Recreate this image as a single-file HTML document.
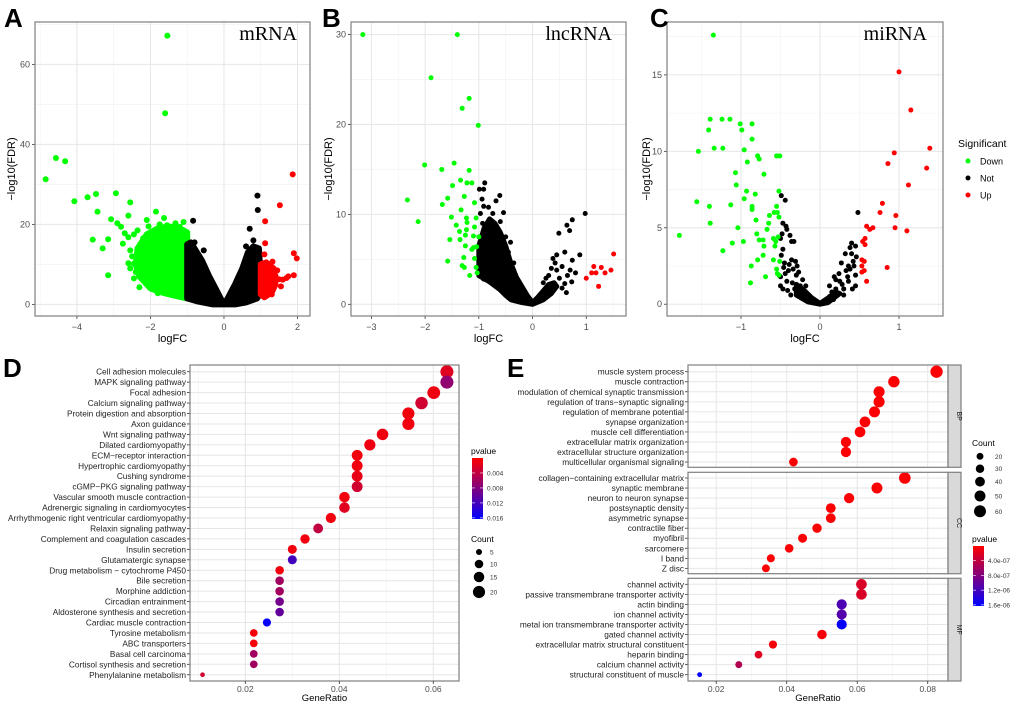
<!DOCTYPE html>
<html><head><meta charset="utf-8">
<style>
html,body{margin:0;padding:0;background:#fff;}
svg{display:block;font-family:"Liberation Sans",Arial,sans-serif;}
</style></head>
<body>
<svg id="fig" width="1020" height="707" viewBox="0 0 1020 707" xmlns="http://www.w3.org/2000/svg"></svg>
<script>
// ===== Volcano data (logFC, -log10 FDR) =====
const aGreen=[[-1.54,67.2],[-1.6,47.8],[-4.57,36.6],[-4.32,35.8],[-4.85,31.3],[-4.07,25.8],[-3.71,26.8],[-3.48,27.6],[-2.94,27.8],[-3.44,23.2],[-2.55,25.5],[-1.85,23.2],[-1.63,21.6],[-3.07,21.3],[-2.6,22.2],[-2.1,21.1],[-3.57,16.2],[-3.15,16.3],[-3.3,14.0],[-3.15,7.3],[-2.3,4.3],[-2.9,20.3],[-2.8,19.4],[-2.7,17.8],[-2.55,13.5],[-2.55,9],[-2.45,10.2],[-2.2,7.2],[-1.32,20.3],[-1.1,20.6],[-1.2,19.4],[-2.75,15.2],[-2.6,16.8],[-2.45,17.5],[-2.4,8.1],[-2.6,10.3],[-2.05,19.5],[-1.75,20],[-1.4,18.4],[-2.35,18.5],[-2.2,16.5],[-2.5,12],[-2.45,6.5],[-2.1,5],[-1.8,2.8],[-2.25,11.5],[-1.95,18.2],[-1.55,19.8]];
const aBlack=[[-0.84,20.9],[0.91,27.2],[0.92,23.6],[0.7,18.9],[0.8,16],[-0.8,15.5],[0.88,14.2],[-0.55,13.5],[0.6,14.5]];
const aRed=[[1.87,32.5],[1.52,24.8],[1.12,20.8],[1.12,15.3],[1.9,12.8],[1.98,11.5],[1.9,7.3],[1.32,10.7],[1.1,12.5],[1.7,6.6],[1.6,6.2],[1.75,7],[1.45,8.5],[1.5,6.3],[1.25,4],[1.3,2.5],[1.2,8.5],[1.05,10.2],[1.4,7.2],[1.55,4.5]];
const aGreenCloud=[[-1,1.5],[-1,18],[-1.2,19],[-1.5,19.5],[-1.8,19],[-2.1,17.5],[-2.35,14],[-2.4,10],[-2.3,7],[-2.0,4],[-1.7,3],[-1.4,2.3]];
const aBlackCloud=[[-1,1.5],[-1,15],[-0.9,15.5],[-0.8,14],[-0.6,11],[-0.4,7],[-0.2,3.5],[-0.05,0.8],[0,0],[0.1,1.5],[0.3,5],[0.5,9],[0.65,13],[0.8,14.5],[0.95,14],[1.0,7],[1.0,3],[0.9,1.5],[0.6,0.5],[0.3,0],[-0.3,0],[-0.7,0.7]];
const aRedCloud=[[1.0,2.5],[1.0,10],[1.15,10.5],[1.35,9],[1.4,5],[1.3,3],[1.1,1.8]];

const bGreen=[[-3.16,30.0],[-1.40,30.0],[-1.89,25.2],[-1.18,22.9],[-1.31,21.8],[-1.01,19.9],[-2.01,15.5],[-1.69,15.0],[-1.46,15.7],[-1.18,14.9],[-2.33,11.6],[-2.13,9.2],[-1.34,13.8],[-1.22,13.5],[-1.13,13.5],[-1.49,13.2],[-1.27,12.0],[-1.58,11.8],[-1.68,11.1],[-1.08,11.3],[-1.33,10.5],[-1.51,9.7],[-1.23,9.6],[-1.05,9.6],[-1.42,8.8],[-1.22,9.1],[-1.23,8.3],[-1.08,8.6],[-1.54,7.2],[-1.36,8.1],[-1.25,7.7],[-1.35,7.2],[-1.10,7.6],[-1.00,7.5],[-1.25,6.5],[-1.10,6.3],[-1.13,6.1],[-1.04,6.4],[-1.58,4.8],[-1.28,5.2],[-1.31,4.3],[-1.27,4.1],[-1.08,5.1],[-1.05,4.1],[-1.03,3.5],[-1.17,3.2]];
const bBlack=[[0.98,10.1],[0.74,9.4],[0.64,8.8],[0.69,8.2],[0.49,7.9],[0.88,5.5],[0.60,5.8],[0.74,4.9],[0.45,5.5],[0.73,2.5],[0.63,1.3],[0.38,5.1],[-0.89,13.5],[-0.99,12.8],[-0.91,12.8],[-0.61,12.1],[-0.94,11.7],[-0.91,10.9],[-0.54,10.2],[-0.74,10.1],[-0.97,10.1],[-0.93,9.0],[-0.80,8.3],[-0.60,9.2],[-0.41,6.9],[-0.94,3.5],[-0.91,2.8],[-0.85,7.5],[-0.95,6],[-0.7,7],[-0.5,7.5],[0.55,4.2],[0.65,3.2],[0.45,3.8],[0.3,3.2],[0.5,2.9],[0.7,3.8],[-0.98,4.5],[-0.88,5.2],[-0.82,10.8],[-0.68,11.5],[-0.45,5.8],[-0.35,4.6],[0.2,2.4],[0.35,4.0],[0.25,2.9],[0.55,1.8],[0.42,4.6],[0.6,2.3],[0.8,3.5]];
const bRed=[[1.51,5.6],[1.0,2.9],[1.10,3.5],[1.14,4.2],[1.18,3.5],[1.28,4.1],[1.23,2.0],[1.35,3.5],[1.46,3.8]];
const bBlackCloud=[[-1.0,6.5],[-0.9,8.5],[-0.8,9.5],[-0.7,9],[-0.6,8],[-0.5,6.5],[-0.4,4.5],[-0.3,3],[-0.2,2],[-0.1,1],[0,0.2],[0.1,0.8],[0.2,1.5],[0.3,2.2],[0.4,2.4],[0.45,2.0],[0.35,1.2],[0.2,0.5],[0,0],[-0.2,0.2],[-0.4,0.5],[-0.5,1],[-0.6,1.6],[-0.8,2.5],[-1.0,3.2]];

const cGreen=[[-1.35,17.6],[-1.39,12.1],[-1.24,12.1],[-1.14,12.1],[-1.41,11.4],[-1.01,11.8],[-0.99,11.4],[-0.86,11.8],[-0.86,10.8],[-1.34,10.2],[-1.23,10.2],[-1.54,10.0],[-0.96,10.1],[-0.79,9.7],[-0.77,9.5],[-0.92,9.3],[-0.55,9.7],[-0.51,9.7],[-1.07,8.6],[-0.71,8.5],[-1.06,7.8],[-0.93,7.4],[-0.52,7.4],[-0.96,6.9],[-0.82,7.2],[-1.56,6.7],[-1.13,6.5],[-1.40,6.4],[-0.86,6.4],[-0.86,6.2],[-0.55,6.4],[-0.58,6.0],[-0.54,6.0],[-0.64,5.8],[-0.52,5.7],[-0.81,5.5],[-1.39,5.3],[-0.65,5.3],[-1.04,5.0],[-0.67,4.9],[-1.78,4.5],[-0.80,4.6],[-0.77,4.2],[-0.72,4.2],[-0.53,4.4],[-1.11,4.0],[-0.97,4.1],[-0.56,4.1],[-0.59,4.3],[-0.57,3.8],[-0.71,3.8],[-1.23,3.5],[-0.72,3.2],[-0.79,2.9],[-0.59,2.9],[-0.51,2.8],[-0.87,2.5],[-0.55,2.3],[-0.54,2.0],[-0.52,1.9],[-0.69,1.8],[-0.88,1.4]];
const cRed=[[1.0,15.2],[1.15,12.7],[1.39,10.2],[0.94,9.9],[1.35,8.9],[0.86,9.2],[1.12,7.8],[0.79,6.6],[0.76,6.0],[0.96,5.8],[0.95,5.0],[1.10,4.8],[0.59,5.1],[0.63,4.9],[0.67,5.0],[0.57,4.3],[0.54,4.1],[0.57,3.9],[0.53,2.9],[0.56,2.8],[0.53,2.5],[0.53,2.1],[0.56,2.2],[0.59,1.5],[0.85,2.4]];
const cBlack=[[-0.49,7.1],[-0.44,6.8],[0.48,6.0],[-0.47,5.3],[-0.43,5.1],[-0.42,4.9],[-0.48,4.6],[-0.50,4.3],[-0.38,4.5],[-0.36,4.1],[-0.33,4.1],[-0.47,3.6],[-0.49,3.2],[-0.45,2.7],[-0.36,2.9],[-0.29,2.5],[-0.50,1.8],[-0.50,1.2],[0.40,4.0],[0.45,3.8],[0.38,3.7],[0.32,3.3],[0.46,3.1],[0.42,2.8],[0.36,2.5],[0.27,2.7],[0.45,1.9],[0.45,1.2],[0.18,1.8],[-0.4,2.2],[-0.3,1.9],[-0.42,1.5],[-0.25,1.2],[0.25,1.5],[0.35,1.8],[0.3,1.0],
 [-0.46,2.4],[-0.44,2.0],[-0.39,2.6],[-0.34,2.3],[-0.31,2.8],[-0.27,2.1],[-0.22,1.6],[-0.35,1.4],[-0.47,1.0],[-0.41,0.9],[-0.32,1.0],[-0.28,0.7],[-0.2,0.9],[-0.15,0.6],[-0.18,1.2],[-0.12,0.4],[-0.08,0.3],[-0.05,0.15],[-0.24,0.45],[-0.37,0.6],
 [0.05,0.15],[0.08,0.3],[0.12,0.5],[0.15,0.8],[0.2,1.0],[0.22,0.6],[0.28,1.3],[0.33,2.2],[0.38,2.3],[0.4,3.3],[0.43,2.5],[0.3,0.6],[0.17,0.3],[0.24,2.0],[0.36,1.5],[0.41,1.0],[0.12,1.2],[0.2,1.6]];
const cBlackCloud=[[-0.3,1.3],[-0.2,0.9],[-0.1,0.4],[0,0.05],[0.1,0.4],[0.2,0.8],[0.25,0.7],[0.1,0.1],[0,0],[-0.15,0.15],[-0.3,0.6]];

// ===== KEGG (D) =====
const dTerms=["Cell adhesion molecules","MAPK signaling pathway","Focal adhesion","Calcium signaling pathway","Protein digestion and absorption","Axon guidance","Wnt signaling pathway","Dilated cardiomyopathy","ECM−receptor interaction","Hypertrophic cardiomyopathy","Cushing syndrome","cGMP−PKG signaling pathway","Vascular smooth muscle contraction","Adrenergic signaling in cardiomyocytes","Arrhythmogenic right ventricular cardiomyopathy","Relaxin signaling pathway","Complement and coagulation cascades","Insulin secretion","Glutamatergic synapse","Drug metabolism − cytochrome P450","Bile secretion","Morphine addiction","Circadian entrainment","Aldosterone synthesis and secretion","Cardiac muscle contraction","Tyrosine metabolism","ABC transporters","Basal cell carcinoma","Cortisol synthesis and secretion","Phenylalanine metabolism"];
const dRatio=[0.0629,0.0629,0.0601,0.0575,0.0547,0.0547,0.0492,0.0465,0.0438,0.0438,0.0438,0.0438,0.0411,0.0411,0.0382,0.0355,0.0327,0.0300,0.0300,0.0273,0.0273,0.0273,0.0273,0.0273,0.0246,0.0218,0.0218,0.0218,0.0218,0.0109];
const dCount=[23,23,22,21,20,20,18,17,16,16,16,16,15,15,14,13,12,11,11,10,10,10,10,10,9,8,8,8,8,3];
const dP=[0.002,0.007,0.001,0.003,0.0008,0.0008,0.001,0.001,0.0008,0.0008,0.0015,0.003,0.0008,0.002,0.0008,0.004,0.0008,0.0008,0.012,0.0008,0.006,0.006,0.009,0.010,0.016,0.0005,0.0005,0.006,0.006,0.003];
const dXTicks=[0.02,0.04,0.06];
const dPTicks=[0.004,0.008,0.012,0.016];
const dCountTicks=[5,10,15,20];

// ===== GO (E) =====
const eBP=["muscle system process","muscle contraction","modulation of chemical synaptic transmission","regulation of trans−synaptic signaling","regulation of membrane potential","synapse organization","muscle cell differentiation","extracellular matrix organization","extracellular structure organization","multicellular organismal signaling"];
const eBPRatio=[0.0825,0.0704,0.0662,0.0662,0.0649,0.0622,0.0608,0.0568,0.0568,0.0419];
const eBPCount=[63,54,51,51,50,48,47,44,44,32];
const eBPP=[2e-8,2e-8,2e-8,2e-8,2e-8,2e-8,2e-8,2e-8,2e-8,3e-8];
const eCC=["collagen−containing extracellular matrix","synaptic membrane","neuron to neuron synapse","postsynaptic density","asymmetric synapse","contractile fiber","myofibril","sarcomere","I band","Z disc"];
const eCCRatio=[0.0735,0.0656,0.0577,0.0525,0.0525,0.0486,0.0445,0.0407,0.0355,0.0341];
const eCCCount=[56,50,44,40,40,37,34,31,27,26];
const eCCP=[2e-8,2e-8,2e-8,2e-8,2e-8,2e-8,2e-8,2e-8,2e-8,2e-8];
const eMF=["channel activity","passive transmembrane transporter activity","actin binding","ion channel activity","metal ion transmembrane transporter activity","gated channel activity","extracellular matrix structural constituent","heparin binding","calcium channel activity","structural constituent of muscle"];
const eMFRatio=[0.0612,0.0612,0.0556,0.0556,0.0556,0.0500,0.0361,0.0320,0.0264,0.0153];
const eMFCount=[47,47,43,43,43,38,28,25,20,10];
const eMFP=[2.5e-7,2.5e-7,1.15e-6,1.1e-6,1.6e-6,6e-8,6e-8,2e-7,5e-7,1.6e-6];
const eXTicks=[0.02,0.04,0.06,0.08];
const ePTicks=[4e-7,8e-7,1.2e-6,1.6e-6];
const ePLabels=["4.0e-07","8.0e-07","1.2e-06","1.6e-06"];
const eCountTicks=[20,30,40,50,60];

const NS="http://www.w3.org/2000/svg";
const svg=document.getElementById('fig');
function mk(tag,attrs,parent,text){const e=document.createElementNS(NS,tag);for(const k in attrs)e.setAttribute(k,attrs[k]);if(text!==undefined)e.textContent=text;(parent||svg).appendChild(e);return e;}
function lin(d0,d1,r0,r1){return v=>r0+(v-d0)/(d1-d0)*(r1-r0);}
function pcol(p,max){let t=Math.max(0,Math.min(1,p/max));return `rgb(${Math.round(255*(1-t))},0,${Math.round(255*t)})`;}

// ---------- volcano ----------
function volcano(o){
  const g=mk('g',{});
  
  
  const X=lin(o.xd[0],o.xd[1],o.L,o.R),Y=lin(o.yd[0],o.yd[1],o.B,o.T);
  o.xminor.forEach(v=>{mk('line',{x1:X(v),x2:X(v),y1:o.T,y2:o.B,stroke:'#f2f2f2','stroke-width':0.6},g);});
  o.yminor.forEach(v=>{mk('line',{y1:Y(v),y2:Y(v),x1:o.L,x2:o.R,stroke:'#f2f2f2','stroke-width':0.6},g);});
  o.xt.forEach(v=>{const l=mk('line',{x1:X(v),x2:X(v),y1:o.T,y2:o.B,stroke:'#e6e6e6','stroke-width':1},g);
    
    mk('line',{x1:X(v),x2:X(v),y1:o.B,y2:o.B+3,stroke:'#333','stroke-width':0.8},g);
    const t=mk('text',{x:X(v),y:o.B+14,'font-size':9,fill:'#4d4d4d','text-anchor':'middle'},g,v<0?'−'+(-v):String(v));
    });
  o.yt.forEach(v=>{const l=mk('line',{y1:Y(v),y2:Y(v),x1:o.L,x2:o.R,stroke:'#e6e6e6','stroke-width':1},g);
    
    mk('line',{y1:Y(v),y2:Y(v),x1:o.L-3,x2:o.L,stroke:'#333','stroke-width':0.8},g);
    const t=mk('text',{x:o.L-5,y:Y(v)+3,'font-size':9,fill:'#4d4d4d','text-anchor':'end'},g,String(v));
    });
  const r=o.r;
  const cloud=(arr,col,nm)=>{if(!arr)return;const p=mk('polygon',{points:arr.map(d=>X(d[0])+','+Y(d[1])).join(' '),fill:col,stroke:col,'stroke-width':r*2,'stroke-linejoin':'round'},g);
    };
  cloud(o.gc,'#00ff00','down-cloud');cloud(o.bc,'#000000','not-cloud');cloud(o.rc,'#ff0000','up-cloud');
  const pts=(arr,col,nm)=>arr.forEach(d=>{const c=mk('circle',{cx:X(d[0]),cy:Y(d[1]),r:r,fill:col},g);
    });
  pts(o.black,'#000','point-not');pts(o.green,'#00ff00','point-down');pts(o.red,'#ff0000','point-up');
  const fr=mk('rect',{x:o.L,y:o.T,width:o.R-o.L,height:o.B-o.T,fill:'none',stroke:'#7f7f7f','stroke-width':1.2},g);
  
  const tt=mk('text',{x:o.lx,y:40,'font-size':20,'font-family':'"Liberation Serif",serif','text-anchor':'end',fill:'#000'},g,o.label);
  
  const xl=mk('text',{x:(o.L+o.R)/2,y:342,'font-size':11,'text-anchor':'middle',fill:'#000'},g,'logFC');
  
  const yl=mk('text',{x:0,y:0,'font-size':11,'text-anchor':'middle',fill:'#000',transform:`translate(${o.ylx},${(o.T+o.B)/2}) rotate(-90)`},g,'−log10(FDR)');
  
  const pl=mk('text',{x:o.px,y:27,'font-size':26,'font-weight':'bold',fill:'#000'},g,o.letter);
  
}
volcano({name:'volcano-mrna',letter:'A',px:4,L:35,R:310,T:22,B:316,xd:[-5.14,2.34],yd:[-2.9,70.6],xt:[-4,-2,0,2],yt:[0,20,40,60],xminor:[-5,-3,-1,1],yminor:[10,30,50,70],r:3,
  green:aGreen,black:aBlack,red:aRed,gc:aGreenCloud,bc:aBlackCloud,rc:aRedCloud,label:'mRNA',lx:297,ylx:15});
volcano({name:'volcano-lncrna',letter:'B',px:322,L:351,R:626,T:22,B:316,xd:[-3.38,1.74],yd:[-1.3,31.4],xt:[-3,-2,-1,0,1],yt:[0,10,20,30],xminor:[-2.5,-1.5,-0.5,0.5,1.5],yminor:[5,15,25],r:2.5,
  green:bGreen,black:bBlack,red:bRed,bc:bBlackCloud,label:'lncRNA',lx:612,ylx:332});
volcano({name:'volcano-mirna',letter:'C',px:650,L:667,R:943,T:22,B:316,xd:[-1.937,1.557],yd:[-0.77,18.46],xt:[-1,0,1],yt:[0,5,10,15],xminor:[-1.5,-0.5,0.5,1.5],yminor:[2.5,7.5,12.5,17.5],r:2.5,
  green:cGreen,black:cBlack,red:cRed,bc:cBlackCloud,label:'miRNA',lx:927,ylx:650});
// legend
{const g=mk('g',{});
 mk('text',{x:958,y:147,'font-size':10.5,fill:'#000'},g,'Significant');
 [['Down','#00ff00'],['Not','#000'],['Up','#ff0000']].forEach((e,i)=>{const y=161+i*17;
  const c=mk('circle',{cx:968,cy:y,r:2.5,fill:e[1]},g);
  const t=mk('text',{x:980,y:y+3.5,'font-size':9,fill:'#000'},g,e[0]);});}

// ---------- dot plot panels ----------
function gridX(g,X,T,B,ticks,minor){minor.forEach(v=>mk('line',{x1:X(v),x2:X(v),y1:T,y2:B,stroke:'#f2f2f2','stroke-width':0.6},g));
  ticks.forEach(v=>mk('line',{x1:X(v),x2:X(v),y1:T,y2:B,stroke:'#e6e6e6','stroke-width':1},g));}
function dotRows(g,terms,ratio,count,pv,X,y0,step,L,rf,pmax,T,B){
  terms.forEach((t,i)=>{const y=y0+i*step;mk('line',{x1:L,x2:X.R,y1:y,y2:y,stroke:'#e6e6e6','stroke-width':1},g);});
  terms.forEach((t,i)=>{const y=y0+i*step;
    mk('line',{x1:L-3,x2:L,y1:y,y2:y,stroke:'#333','stroke-width':0.8},g);
    const tx=mk('text',{x:L-4,y:y+3,'font-size':8.3,'text-anchor':'end',fill:'#222'},g,t);
    
    const c=mk('circle',{cx:X(ratio[i]),cy:y,r:rf(count[i]),fill:pcol(pv[i],pmax)},g);
    });
}
// D
{const g=mk('g',{});
 const L=190,R=459,T=365,B=681;const X=lin(0.00823,0.06547,L,R);X.R=R;
 gridX(g,X,T,B,dXTicks,[0.01,0.03,0.05]);
 const rf=c=>1.36*Math.sqrt(c);
 dotRows(g,dTerms,dRatio,dCount,dP,X,371.7,10.45,L,rf,0.0163,T,B);
 mk('rect',{x:L,y:T,width:R-L,height:B-T,fill:'none',stroke:'#7f7f7f','stroke-width':1.2},g);
 dXTicks.forEach(v=>{mk('line',{x1:X(v),x2:X(v),y1:B,y2:B+3,stroke:'#333','stroke-width':0.8},g);
   const t=mk('text',{x:X(v),y:B+11,'font-size':8.5,'text-anchor':'middle',fill:'#4d4d4d'},g,String(v));});
 const xt=mk('text',{x:(L+R)/2,y:701,'font-size':9.5,'text-anchor':'middle',fill:'#000'},g,'GeneRatio');
 const pl=mk('text',{x:3,y:377,'font-size':26,'font-weight':'bold'},g,'D');
 mk('text',{x:471,y:454,'font-size':8.5,fill:'#000'},g,'pvalue');
 const lg=mk('linearGradient',{id:'gD',x1:0,y1:0,x2:0,y2:1},mk('defs',{},g));mk('stop',{offset:0,'stop-color':'#ff0000'},lg);mk('stop',{offset:1,'stop-color':'#0000ff'},lg);
 const cb=mk('rect',{x:472,y:458,width:11,height:61,fill:'url(#gD)'},g);
 const PY=lin(0,0.0163,458,519);
 dPTicks.forEach(v=>{mk('line',{x1:472,x2:475,y1:PY(v),y2:PY(v),stroke:'#fff','stroke-width':0.6},g);mk('line',{x1:480,x2:483,y1:PY(v),y2:PY(v),stroke:'#fff','stroke-width':0.6},g);
   mk('text',{x:487,y:PY(v)+2.5,'font-size':6.5,fill:'#333'},g,v.toFixed(3));});
 mk('text',{x:471,y:542,'font-size':8.5,fill:'#000'},g,'Count');
 const cy=[552,564,577,592];
 dCountTicks.forEach((v,i)=>{const c=mk('circle',{cx:479,cy:cy[i],r:rf(v),fill:'#000'},g);
   mk('text',{x:490,y:cy[i]+2.5,'font-size':6.5,fill:'#333'},g,String(v));});
}
// E
{const g=mk('g',{});
 const L=688,R=948,SR=961;const X=lin(0.0120,0.08575,L,R);X.R=R;
 const rf=c=>0.775*Math.sqrt(c);
 const facets=[['BP',365,467.3,371.7,eBP,eBPRatio,eBPCount,eBPP],['CC',472.3,573.7,478,eCC,eCCRatio,eCCCount,eCCP],['MF',578.3,681,584.3,eMF,eMFRatio,eMFCount,eMFP]];
 facets.forEach(f=>{const [nm,T,B,y0,terms,ra,co,pv]=f;
   gridX(g,X,T,B,eXTicks,[0.01,0.03,0.05,0.07]);
   dotRows(g,terms,ra,co,pv,X,y0,10.04,L,rf,1.63e-6,T,B);
   mk('rect',{x:L,y:T,width:R-L,height:B-T,fill:'none',stroke:'#7f7f7f','stroke-width':1.2},g);
   const s=mk('rect',{x:R,y:T,width:SR-R,height:B-T,fill:'#d9d9d9',stroke:'#7f7f7f','stroke-width':1.2},g);
   mk('text',{x:0,y:0,'font-size':7,fill:'#1a1a1a','text-anchor':'middle',transform:`translate(${(R+SR)/2+2.5},${(T+B)/2}) rotate(90)`},g,nm);
 });
 eXTicks.forEach(v=>{mk('line',{x1:X(v),x2:X(v),y1:681,y2:684,stroke:'#333','stroke-width':0.8},g);
   const t=mk('text',{x:X(v),y:692,'font-size':8.5,'text-anchor':'middle',fill:'#4d4d4d'},g,String(v));});
 const xt=mk('text',{x:818,y:701,'font-size':9.5,'text-anchor':'middle',fill:'#000'},g,'GeneRatio');
 const pl=mk('text',{x:507,y:377,'font-size':26,'font-weight':'bold'},g,'E');
 mk('text',{x:972,y:446,'font-size':8.5,fill:'#000'},g,'Count');
 const cy=[456.3,468.7,481.7,496,511.3];
 eCountTicks.forEach((v,i)=>{const c=mk('circle',{cx:980,cy:cy[i],r:rf(v),fill:'#000'},g);
   mk('text',{x:995,y:cy[i]+2.5,'font-size':6.5,fill:'#333'},g,String(v));});
 mk('text',{x:972,y:542,'font-size':8.5,fill:'#000'},g,'pvalue');
 const lg=mk('linearGradient',{id:'gE',x1:0,y1:0,x2:0,y2:1},mk('defs',{},g));mk('stop',{offset:0,'stop-color':'#ff0000'},lg);mk('stop',{offset:1,'stop-color':'#0000ff'},lg);
 const cb=mk('rect',{x:973,y:546,width:11,height:60,fill:'url(#gE)'},g);
 const PY=lin(0,1.63e-6,546,606);
 ePTicks.forEach((v,i)=>{mk('line',{x1:973,x2:976,y1:PY(v),y2:PY(v),stroke:'#fff','stroke-width':0.6},g);mk('line',{x1:981,x2:984,y1:PY(v),y2:PY(v),stroke:'#fff','stroke-width':0.6},g);
   mk('text',{x:988,y:PY(v)+2.5,'font-size':6.5,fill:'#333'},g,ePLabels[i]);});
}
</script>
</body></html>
